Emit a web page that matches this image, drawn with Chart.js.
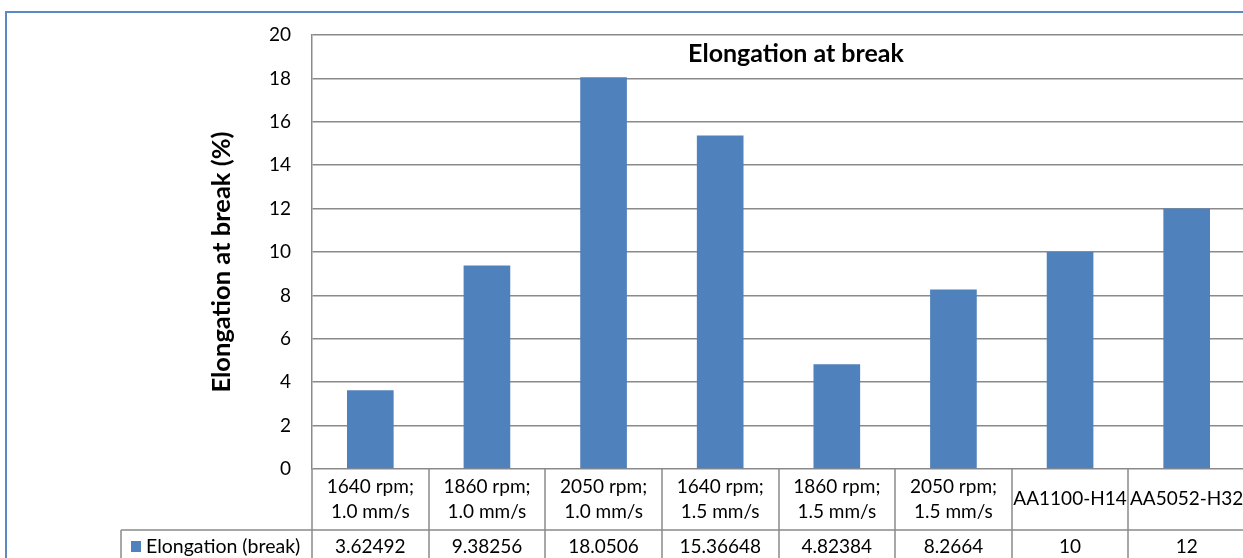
<!DOCTYPE html>
<html><head><meta charset="utf-8">
<script src="https://cdn.jsdelivr.net/npm/chart.js@4/dist/chart.umd.min.js"></script>
<style>
html,body{margin:0;padding:0;background:#fff;overflow:hidden;width:1243px;height:558px}
#wrap{position:relative;width:1243px;height:558px;overflow:hidden}
canvas{position:absolute;left:0;top:0}
</style></head><body><div id="wrap"><canvas id="c" width="1250" height="558"></canvas></div>
<script>
// ---- data ----
const categories = [
  ["1640 rpm;", "1.0 mm/s"],
  ["1860 rpm;", "1.0 mm/s"],
  ["2050 rpm;", "1.0 mm/s"],
  ["1640 rpm;", "1.5 mm/s"],
  ["1860 rpm;", "1.5 mm/s"],
  ["2050 rpm;", "1.5 mm/s"],
  ["AA1100-H14"],
  ["AA5052-H32"]
];
const seriesName = "Elongation (break)";
const values = [3.62492, 9.38256, 18.0506, 15.36648, 4.82384, 8.2664, 10, 12];
const valueLabels = ["3.62492", "9.38256", "18.0506", "15.36648", "4.82384", "8.2664", "10", "12"];
const yMin = 0, yMax = 20, yStep = 2;
const chartTitle = "Elongation at break";
const yTitle = "Elongation at break (%)";

// ---- style ----
const FONT = "Lato, 'Open Sans', sans-serif";
const barColor = "#4F81BD";
const gridColor = "#8A8A8A";
const frameColor = "#5B89C4";

const framePlugin = {
  id: 'frame',
  beforeDraw(chart) {
    const ctx = chart.ctx;
    ctx.save();
    ctx.fillStyle = '#fff';
    ctx.fillRect(0, 0, chart.width, chart.height);
    ctx.strokeStyle = frameColor;
    ctx.lineWidth = 2;
    ctx.beginPath();
    ctx.moveTo(6, chart.height);
    ctx.lineTo(6, 12);
    ctx.lineTo(chart.width, 12);
    ctx.stroke();
    ctx.restore();
  }
};

const tablePlugin = {
  id: 'dataTable',
  afterDraw(chart) {
    const ctx = chart.ctx, xs = chart.scales.x, area = chart.chartArea;
    const n = categories.length;
    const w = xs.getPixelForValue(1) - xs.getPixelForValue(0);
    const top = area.bottom;
    const rowY = top + 61;
    const bottom = chart.height;
    const legendLeft = area.left - 191;
    ctx.save();
    ctx.strokeStyle = gridColor;
    ctx.lineWidth = 1.5;
    const line = (x1, y1, x2, y2) => { ctx.beginPath(); ctx.moveTo(x1, y1); ctx.lineTo(x2, y2); ctx.stroke(); };
    for (let i = 0; i <= n; i++) {
      const px = Math.round(xs.getPixelForValue(0) - w / 2 + i * w);
      line(px, top, px, bottom);
    }
    line(legendLeft, rowY, area.right, rowY);
    line(legendLeft, rowY, legendLeft, bottom);

    ctx.fillStyle = '#000';
    ctx.textAlign = 'center';
    ctx.textBaseline = 'alphabetic';
    ctx.font = "19px " + FONT;
    categories.forEach((lab, i) => {
      const cx = xs.getPixelForValue(i);
      if (lab.length === 2) {
        ctx.fillText(lab[0], cx, top + 24);
        ctx.fillText(lab[1], cx, top + 49);
      } else {
        ctx.fillText(lab[0], cx, top + 36);
      }
      ctx.fillText(valueLabels[i], cx, rowY + 23);
    });
    // legend key
    ctx.fillStyle = barColor;
    ctx.fillRect(legendLeft + 10, rowY + 11, 10, 11);
    ctx.fillStyle = '#000';
    ctx.textAlign = 'left';
    ctx.font = "19.5px " + FONT;
    ctx.fillText(seriesName, legendLeft + 25, rowY + 23);

    // chart title (overlaid in plot area)
    ctx.font = "bold 25px " + FONT;
    ctx.textAlign = 'center';
    ctx.fillText(chartTitle, 796, 62);

    // y axis title
    ctx.font = "bold 25.5px " + FONT;
    ctx.translate(222, 262);
    ctx.rotate(-Math.PI / 2);
    ctx.textBaseline = 'middle';
    ctx.fillText(yTitle, 0, 0);
    ctx.restore();
  }
};

new Chart(document.getElementById('c').getContext('2d'), {
  type: 'bar',
  data: {
    labels: categories.map(c => c.join(' ')),
    datasets: [{
      label: seriesName,
      data: values,
      backgroundColor: barColor,
      borderWidth: 0,
      barPercentage: 0.4,
      categoryPercentage: 1
    }]
  },
  options: {
    responsive: false,
    animation: false,
    layout: { padding: { left: 0, top: 35, right: 5, bottom: 89 } },
    plugins: { legend: { display: false }, tooltip: { enabled: false }, title: { display: false } },
    scales: {
      x: { display: false },
      y: {
        min: yMin, max: yMax,
        ticks: { stepSize: yStep, padding: 21, color: '#000', font: { family: FONT, size: 19 } },
        grid: { color: gridColor, lineWidth: 1.5, drawTicks: false },
        border: { color: gridColor, width: 1.5 },
        afterFit(s) { s.width = 312; }
      }
    }
  },
  plugins: [framePlugin, tablePlugin]
});
</script></body></html>
